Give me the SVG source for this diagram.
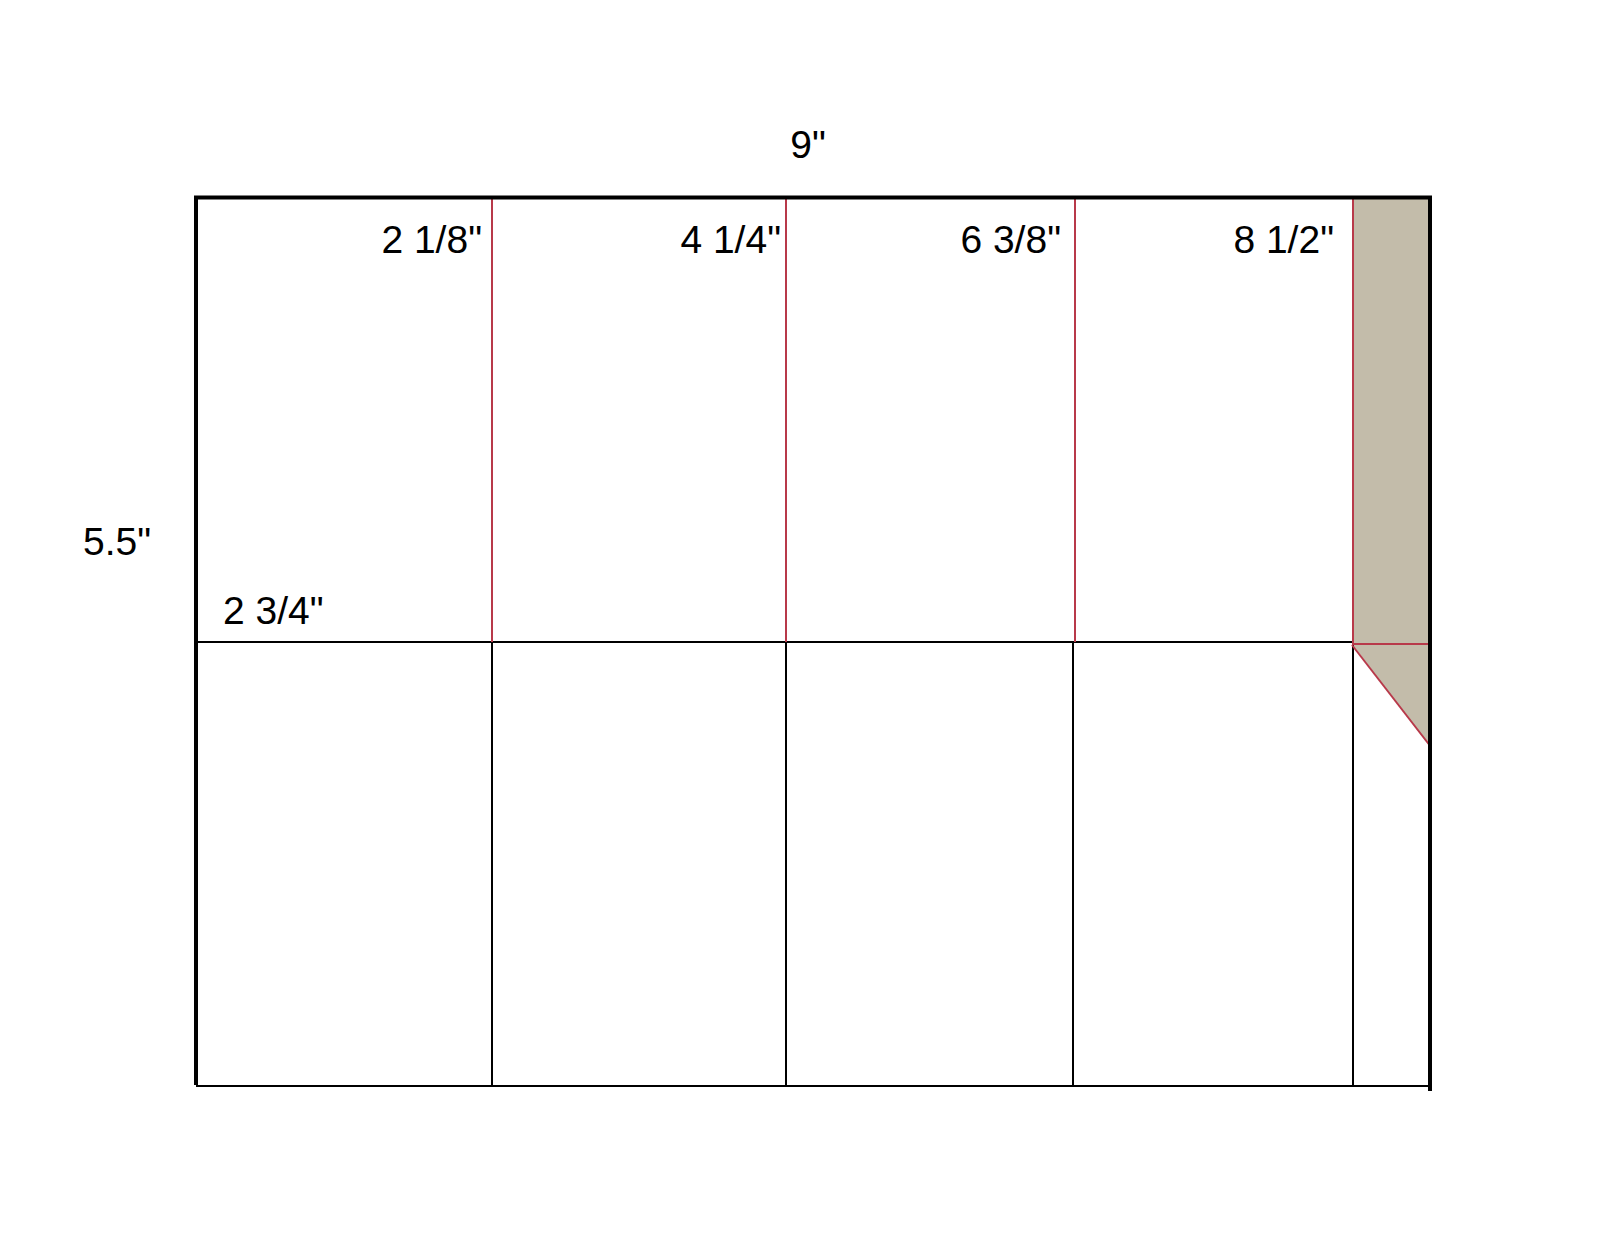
<svg xmlns="http://www.w3.org/2000/svg" width="1600" height="1237" viewBox="0 0 1600 1237">
<style>
text{font-family:"Liberation Sans",Arial,sans-serif;font-size:39px;fill:#000}
.thick{stroke:#000;stroke-width:4;fill:none}
.thin{stroke:#000;stroke-width:2;fill:none}
.red{stroke:#b8394a;stroke-width:2;fill:none}
</style>
<rect width="1600" height="1237" fill="#fff"/>
<g id="fill">
<path d="M1353 198 L1430 198 L1430 747 L1353 645 Z" fill="#c3bcaa"/>
</g>
<g id="lines">
<line class="thin" x1="196" y1="1086" x2="1430" y2="1086"/>
<line class="thin" x1="196" y1="642" x2="1353" y2="642"/>
<line class="red" x1="492" y1="198" x2="492" y2="642"/>
<line class="red" x1="786" y1="198" x2="786" y2="642"/>
<line class="red" x1="1075" y1="198" x2="1075" y2="642"/>
<line class="red" x1="1353" y1="198" x2="1353" y2="645"/>
<line class="thin" x1="492" y1="642" x2="492" y2="1086"/>
<line class="thin" x1="786" y1="642" x2="786" y2="1086"/>
<line class="thin" x1="1073" y1="642" x2="1073" y2="1086"/>
<line class="thin" x1="1353" y1="645" x2="1353" y2="1086"/>
<line class="red" x1="1353" y1="644" x2="1430" y2="644"/>
<line class="red" x1="1352" y1="645" x2="1431" y2="747"/>
<line class="thick" x1="194" y1="197.5" x2="1432" y2="197.5"/>
<line class="thick" x1="196" y1="196" x2="196" y2="1085"/>
<line class="thick" x1="1430" y1="196" x2="1430" y2="1091"/>
</g>
<g id="labels">
<text x="808" y="158" text-anchor="middle">9"</text>
<text x="482" y="253" text-anchor="end">2 1/8"</text>
<text x="781" y="253" text-anchor="end">4 1/4"</text>
<text x="1061" y="253" text-anchor="end">6 3/8"</text>
<text x="1334" y="253" text-anchor="end">8 1/2"</text>
<text x="83" y="555">5.5"</text>
<text x="223" y="624">2 3/4"</text>
</g>
</svg>
